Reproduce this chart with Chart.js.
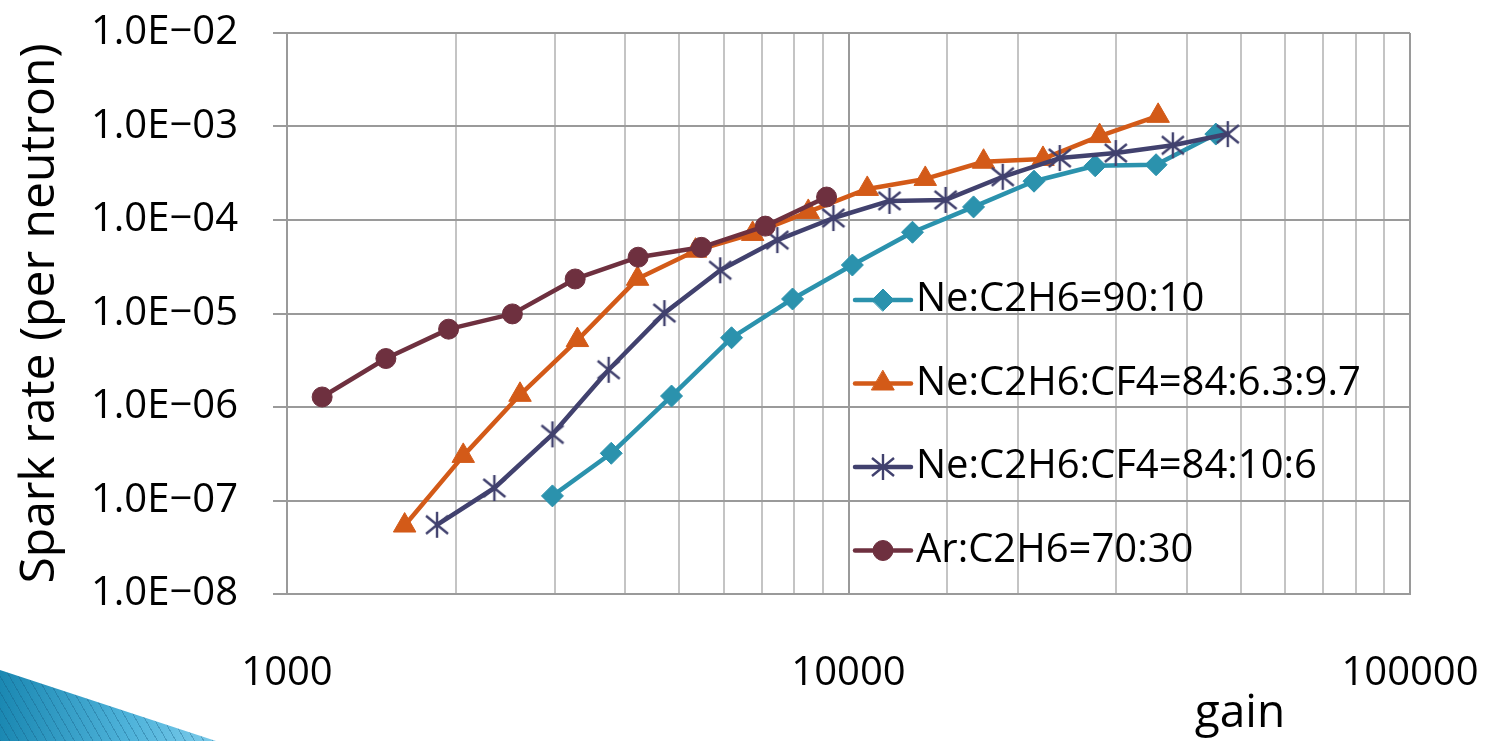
<!DOCTYPE html>
<html>
<head>
<meta charset="utf-8">
<title>Spark rate vs gain</title>
<script src="https://cdn.jsdelivr.net/npm/chart.js@4.4.1/dist/chart.umd.min.js"></script>
<style>
    html, body {
        margin: 0;
        padding: 0;
        background: #ffffff;
    }
    #wrap {
        position: relative;
        width: 1490px;
        height: 741px;
        overflow: hidden;
    }
    /* slide decoration, bottom left */
    #wedge {
        position: absolute;
        left: 0;
        top: 670px;
        width: 216px;
        height: 71px;
        clip-path: polygon(0 0, 100% 100%, 0 100%);
        background:
            repeating-linear-gradient(60deg, rgba(20, 90, 130, 0.35) 0 1px, transparent 1px 8px),
            linear-gradient(to right, #1b88b2, #4fb3da 60%, #7ccbea);
    }
</style>
</head>
<body>
<div id="wrap">
    <canvas id="sparkChart" width="1490" height="741"></canvas>
    <div id="wedge"></div>
</div>
<script>
const seriesNames = [
    "Ne:C2H6=90:10",
    "Ne:C2H6:CF4=84:6.3:9.7",
    "Ne:C2H6:CF4=84:10:6",
    "Ar:C2H6=70:30",
];
const seriesColors = ["#2b92ad", "#d35a18", "#41416e", "#6e303f"];

// Ne:C2H6=90:10
const gainNe90 = [2970, 3780, 4840, 6190, 7950, 10160, 13000, 16700, 21400, 27500, 35300, 45100];
const rateNe90 = [1.12e-7, 3.2e-7, 1.31e-6, 5.5e-6, 1.43e-5, 3.3e-5, 7.4e-5, 1.38e-4, 2.6e-4, 3.8e-4, 3.9e-4, 8.3e-4];

// Ne:C2H6:CF4=84:6.3:9.7
const gainNeCf4A = [1620, 2060, 2600, 3290, 4210, 5340, 6750, 8480, 10800, 13700, 17400, 22200, 28000, 35600];
const rateNeCf4A = [5.4e-8, 3.0e-7, 1.35e-6, 5.2e-6, 2.35e-5, 4.7e-5, 7.1e-5, 1.22e-4, 2.15e-4, 2.75e-4, 4.2e-4, 4.5e-4, 7.9e-4, 1.3e-3];

// Ne:C2H6:CF4=84:10:6
const gainNeCf4B = [1850, 2340, 2970, 3740, 4700, 5910, 7470, 9400, 11830, 14890, 18820, 23780, 29920, 37810, 47370];
const rateNeCf4B = [5.5e-8, 1.36e-7, 5.1e-7, 2.5e-6, 1.01e-5, 2.9e-5, 6.1e-5, 1.05e-4, 1.6e-4, 1.64e-4, 2.9e-4, 4.6e-4, 5.2e-4, 6.3e-4, 8.3e-4];

// Ar:C2H6=70:30
const gainAr = [1155, 1500, 1940, 2520, 3260, 4220, 5470, 7110, 9140];
const rateAr = [1.28e-6, 3.3e-6, 6.8e-6, 9.9e-6, 2.34e-5, 4.0e-5, 5.1e-5, 8.6e-5, 1.76e-4];

const xTicks = [1000, 10000, 100000];
const xTickLabels = ["1000", "10000", "100000"];
const yTicks = [1e-8, 1e-7, 1e-6, 1e-5, 1e-4, 1e-3, 1e-2];
const yTickLabels = ["1.0E\u221208", "1.0E\u221207", "1.0E\u221206", "1.0E\u221205", "1.0E\u221204", "1.0E\u221203", "1.0E\u221202"];

const MAJOR_GRID = "#9a9a9a";
const MINOR_GRID = "#c4c4c4";

function toPoints(gains, rates) {
    return gains.map((g, i) => ({ x: g, y: rates[i] }));
}

function findTick(list, value) {
    return list.findIndex((t) => Math.abs(t - value) / t < 1e-6);
}

function makeStar(color) {
    const c = document.createElement("canvas");
    c.width = 28;
    c.height = 28;
    const g = c.getContext("2d");
    g.strokeStyle = color;
    g.lineWidth = 2.4;
    g.beginPath();
    g.moveTo(14, 1);
    g.lineTo(14, 27);
    g.moveTo(3, 5);
    g.lineTo(25, 23);
    g.moveTo(3, 23);
    g.lineTo(25, 5);
    g.stroke();
    return c;
}

function makeDataset(index, gains, rates, pointStyle, radius) {
    return {
        label: seriesNames[index],
        data: toPoints(gains, rates),
        showLine: true,
        borderColor: seriesColors[index],
        backgroundColor: seriesColors[index],
        borderWidth: 4.5,
        borderCapStyle: "round",
        borderJoinStyle: "round",
        tension: 0,
        pointStyle: pointStyle,
        pointRadius: radius,
        pointHoverRadius: radius,
        pointBorderWidth: 1,
        pointBackgroundColor: seriesColors[index],
        pointBorderColor: seriesColors[index],
        order: 3 - index,
    };
}

// legend inside the plot and the "gain" title, drawn over the chart
const overlayPlugin = {
    id: "overlay",
    afterDraw(chart) {
        const ctx = chart.ctx;
        const area = chart.chartArea;
        ctx.save();
        chart.data.datasets.forEach((ds, i) => {
            const y = area.top + 267 + i * 83.5;
            const x0 = area.left + 568;
            const x1 = x0 + 56;
            ctx.strokeStyle = ds.borderColor;
            ctx.lineWidth = 4.5;
            ctx.lineCap = "round";
            ctx.beginPath();
            ctx.moveTo(x0, y);
            ctx.lineTo(x1, y);
            ctx.stroke();

            ctx.fillStyle = ds.pointBackgroundColor;
            ctx.strokeStyle = ds.pointBorderColor;
            ctx.lineWidth = 1;
            Chart.helpers.drawPoint(ctx, {
                pointStyle: ds.pointStyle,
                radius: ds.pointRadius,
                rotation: 0,
                borderWidth: 1,
            }, (x0 + x1) / 2, y);

            ctx.fillStyle = "#000000";
            ctx.font = '40px "Open Sans"';
            ctx.textAlign = "left";
            ctx.textBaseline = "middle";
            ctx.fillText(ds.label, x1 + 5, y);
        });

        ctx.fillStyle = "#000000";
        ctx.font = '46px "Open Sans"';
        ctx.textAlign = "center";
        ctx.textBaseline = "alphabetic";
        ctx.fillText("gain", area.left + 953, area.bottom + 133);
        ctx.restore();
    },
};

function renderChart() {
    Chart.defaults.font.family = '"Open Sans", sans-serif';
    Chart.defaults.color = "#000000";

    const datasets = [
        makeDataset(0, gainNe90, rateNe90, "rectRot", 11),
        makeDataset(1, gainNeCf4A, rateNeCf4A, "triangle", 13),
        makeDataset(2, gainNeCf4B, rateNeCf4B, makeStar(seriesColors[2]), 12),
        makeDataset(3, gainAr, rateAr, "circle", 10),
    ];

    new Chart(document.getElementById("sparkChart"), {
        type: "scatter",
        data: { datasets: datasets },
        options: {
            responsive: false,
            animation: false,
            devicePixelRatio: 1,
            layout: {
                padding: { top: 33, right: 80, left: 0, bottom: 0 },
            },
            plugins: {
                legend: { display: false },
                tooltip: { enabled: false },
            },
            scales: {
                x: {
                    type: "logarithmic",
                    min: 1000,
                    max: 100000,
                    afterFit(scale) {
                        scale.height = 147;
                        scale.paddingLeft = 0;
                        scale.paddingRight = 0;
                    },
                    grid: {
                        drawTicks: false,
                        lineWidth: 2,
                        color(ctx) {
                            return ctx.tick && findTick(xTicks, ctx.tick.value) >= 0 ? MAJOR_GRID : MINOR_GRID;
                        },
                    },
                    border: { color: MAJOR_GRID, width: 2 },
                    ticks: {
                        autoSkip: false,
                        maxRotation: 0,
                        padding: 56,
                        font: { size: 40 },
                        color: "#000000",
                        callback(value) {
                            const i = findTick(xTicks, value);
                            return i >= 0 ? xTickLabels[i] : "";
                        },
                    },
                },
                y: {
                    type: "logarithmic",
                    min: 1e-8,
                    max: 1e-2,
                    afterBuildTicks(scale) {
                        scale.ticks = yTicks.map((v) => ({ value: v }));
                    },
                    afterFit(scale) {
                        scale.width = 287;
                        scale.paddingTop = 0;
                        scale.paddingBottom = 0;
                    },
                    grid: {
                        color: MAJOR_GRID,
                        lineWidth: 2,
                        drawTicks: true,
                        tickLength: 14,
                    },
                    border: { color: MAJOR_GRID, width: 2 },
                    ticks: {
                        padding: 35,
                        font: { size: 40 },
                        color: "#000000",
                        callback(value) {
                            const i = findTick(yTicks, value);
                            return i >= 0 ? yTickLabels[i] : "";
                        },
                    },
                    title: {
                        display: true,
                        text: "Spark rate (per neutron)",
                        font: { size: 48 },
                        color: "#000000",
                        padding: { top: 12, bottom: 0 },
                    },
                },
            },
        },
        plugins: [overlayPlugin],
    });
}

document.fonts.load('40px "Open Sans"').then(renderChart, renderChart);
</script>
</body>
</html>
